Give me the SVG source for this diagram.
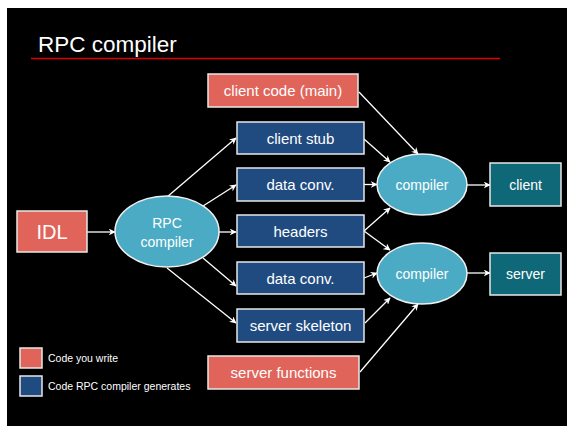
<svg xmlns="http://www.w3.org/2000/svg" width="567" height="426" viewBox="0 0 567 426">
<defs>
<marker id="ah" viewBox="0 0 10 10" refX="9" refY="5" markerWidth="7" markerHeight="7" markerUnits="userSpaceOnUse" orient="auto">
<path d="M0,0 L10,5 L0,10 L3,5 Z" fill="#ffffff"/>
</marker>
<style>
text{font-family:"Liberation Sans",Arial,sans-serif;fill:#ffffff}
.red{fill:#e0645a;stroke:#e8e8e8;stroke-width:1.5}
.blue{fill:#1f4b80;stroke:#e8e8e8;stroke-width:1.5}
.teal{fill:#0f6877;stroke:#e8e8e8;stroke-width:1.5}
.ell{fill:#4babc5;stroke:#f0f0f0;stroke-width:1.5}
.lbl{font-size:15px;text-anchor:middle}
.el{font-size:14px;text-anchor:middle}
.leg{font-size:10.5px}
.c line{stroke:#ffffff;stroke-width:1.3;marker-end:url(#ah)}
</style>
</defs>
<rect x="0" y="0" width="567" height="426" fill="#ffffff"/>
<rect x="7" y="8" width="560" height="418" fill="#000000"/>
<text x="38" y="52" style="font-size:22.5px">RPC compiler</text>
<line x1="31" y1="58.5" x2="500" y2="58.5" stroke="#e00000" stroke-width="1.5"/>

<g class="c">
<line x1="87" y1="232" x2="115" y2="232"/>
<line x1="167" y1="197" x2="236" y2="138"/>
<line x1="203" y1="206" x2="236" y2="185"/>
<line x1="219" y1="232" x2="236" y2="232"/>
<line x1="203" y1="258" x2="236" y2="286"/>
<line x1="167" y1="268" x2="236" y2="323"/>
<line x1="359" y1="92" x2="418" y2="154"/>
<line x1="364" y1="139" x2="390" y2="162"/>
<line x1="364" y1="184.5" x2="377" y2="184.5"/>
<line x1="364" y1="231" x2="390" y2="208"/>
<line x1="364" y1="231" x2="390" y2="250"/>
<line x1="364" y1="278" x2="377" y2="273"/>
<line x1="365" y1="323" x2="390" y2="298"/>
<line x1="360" y1="372" x2="418" y2="304"/>
<line x1="467" y1="185" x2="490" y2="185"/>
<line x1="467" y1="273" x2="490" y2="273"/>
</g>

<g id="idl"><rect class="red" x="17" y="211" width="70" height="41"/><text x="52" y="239" style="font-size:20px;text-anchor:middle">IDL</text></g>
<g id="rpc"><ellipse class="ell" cx="167" cy="231.5" rx="52" ry="35.5"/><text class="el" x="167" y="228">RPC</text><text class="el" x="167" y="247">compiler</text></g>
<g id="clientcode"><rect class="red" x="208" y="74" width="150" height="33"/><text class="lbl" x="283" y="96">client code (main)</text></g>
<g id="clientstub"><rect class="blue" x="237" y="122" width="127" height="32"/><text class="lbl" x="300.5" y="143.5">client stub</text></g>
<g id="dataconv1"><rect class="blue" x="237" y="168" width="127" height="33"/><text class="lbl" x="300.5" y="190">data conv.</text></g>
<g id="headers"><rect class="blue" x="237" y="215" width="127" height="32"/><text class="lbl" x="300.5" y="236.5">headers</text></g>
<g id="dataconv2"><rect class="blue" x="237" y="262" width="127" height="32"/><text class="lbl" x="300.5" y="283.5">data conv.</text></g>
<g id="serverskel"><rect class="blue" x="237" y="309" width="127" height="33"/><text class="lbl" x="300.5" y="331">server skeleton</text></g>
<g id="serverfunc"><rect class="red" x="208" y="356" width="151" height="33"/><text class="lbl" x="283.5" y="378">server functions</text></g>
<g id="compiler1"><ellipse class="ell" cx="422" cy="184.5" rx="45" ry="30.5"/><text class="el" x="422" y="189.5">compiler</text></g>
<g id="compiler2"><ellipse class="ell" cx="422" cy="273.5" rx="45" ry="30.5"/><text class="el" x="422" y="278.5">compiler</text></g>
<g id="client"><rect class="teal" x="490" y="163" width="71" height="43"/><text class="el" x="525.5" y="189.5">client</text></g>
<g id="server"><rect class="teal" x="490" y="253" width="71" height="42"/><text class="el" x="525.5" y="279">server</text></g>
<g id="legend">
<rect class="red" x="20" y="348" width="22" height="20"/><text class="leg" x="48" y="362">Code you write</text>
<rect class="blue" x="20" y="376" width="22" height="20"/><text class="leg" x="48" y="390">Code RPC compiler generates</text>
</g>
</svg>
